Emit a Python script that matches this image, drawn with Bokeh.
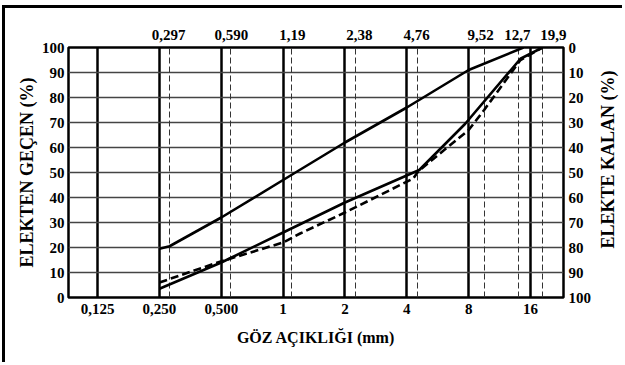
import math
from bokeh.plotting import figure
from bokeh.models import LinearAxis, LogAxis, Range1d, FixedTicker, Grid, Label
from bokeh.embed import file_html
from bokeh.resources import INLINE

# ---- data ----
sieve_ticks_mm = [0.125, 0.25, 0.5, 1.0, 2.0, 4.0, 8.0, 16.0]
sieve_tick_labels = ["0,125", "0,250", "0,500", "1", "2", "4", "8", "16"]

astm_line_mm = [0.28, 0.554, 1.098, 2.25, 4.51, 9.55, 14.0, 18.3]
astm_label_mm = [0.277, 0.56, 1.11, 2.35, 4.46, 9.14, 13.83, 20.7]
astm_labels = ["0,297", "0,590", "1,19", "2,38", "4,76", "9,52", "12,7", "19,9"]

gecen_ticks = [0, 10, 20, 30, 40, 50, 60, 70, 80, 90, 100]
kalan_ticks = [0, 10, 20, 30, 40, 50, 60, 70, 80, 90, 100]

upper_x = [0.25, 0.28, 0.5, 1.0, 2.0, 4.0, 8.0, 14.8]
upper_y = [19.5, 20.5, 32, 47, 62, 76, 91, 100]

lower_x = [0.25, 0.5, 1.0, 2.0, 4.6, 7.7, 14.3, 18.3]
lower_y = [3.5, 14, 26, 38, 51, 69.5, 95.5, 100]

mix_x = [0.25, 0.48, 1.0, 1.21, 2.0, 4.3, 4.55, 8.0, 9.52, 14.3, 18.3]
mix_y = [6, 14, 22, 25.6, 34, 47.6, 50.5, 67, 75, 95, 100]

FONT = "Liberation Serif"

p = figure(width=620, height=357, x_axis_type="log",
           x_range=Range1d(0.0902, 23.17), y_range=Range1d(0, 100),
           output_backend="svg", toolbar_location=None,
           min_border_left=63, min_border_right=62,
           min_border_top=39, min_border_bottom=68)
p.styles = {"border-left": "3px solid black", "border-top": "3px solid black",
            "margin-left": "2px", "margin-top": "5px"}
p.background_fill_color = "white"
p.border_fill_color = "white"
p.outline_line_color = "black"
p.outline_line_width = 2.5
p.outline_line_alpha = 1.0

def style_axis(ax, label_size="15px"):
    ax.axis_line_color = None
    ax.major_tick_line_color = None
    ax.minor_tick_line_color = None
    ax.major_tick_out = 0
    ax.major_tick_in = 0
    ax.minor_tick_out = 0
    ax.minor_tick_in = 0
    ax.major_label_text_font = FONT
    ax.major_label_text_font_style = "bold"
    ax.major_label_text_font_size = label_size
    ax.major_label_text_color = "black"
    ax.axis_label_text_font = FONT
    ax.axis_label_text_font_style = "bold"
    ax.axis_label_text_color = "black"

# bottom axis
xb = p.xaxis[0]
xb.ticker = FixedTicker(ticks=sieve_ticks_mm)
xb.major_label_overrides = dict(zip(sieve_ticks_mm, sieve_tick_labels))
xb.axis_label = "GÖZ AÇIKLIĞI (mm)"
style_axis(xb)
xb.axis_label_text_font_size = "16px"
xb.major_label_standoff = 6
xb.axis_label_standoff = 12

# left axis
yl = p.yaxis[0]
yl.ticker = FixedTicker(ticks=gecen_ticks)
yl.axis_label = "ELEKTEN GEÇEN (%)"
style_axis(yl)
yl.axis_label_text_font_size = "18px"
yl.major_label_standoff = 4
yl.axis_label_standoff = 2

# top axis (sieve openings)
xt = LogAxis(ticker=FixedTicker(ticks=astm_label_mm),
             major_label_overrides=dict(zip(astm_label_mm, astm_labels)))
style_axis(xt)
xt.major_label_standoff = 8
p.add_layout(xt, "above")

# right axis (retained)
p.extra_y_ranges = {"kalan": Range1d(100, 0)}
yr = LinearAxis(y_range_name="kalan", ticker=FixedTicker(ticks=kalan_ticks))
style_axis(yr)
yr.major_label_standoff = 5
p.add_layout(yr, "right")

# right-side title, reading bottom-to-top like the left one
right_title = Label(x=13, y=138, x_units="screen", y_units="screen",
                    text="ELEKTE KALAN (%)", angle=math.pi / 2,
                    text_align="center", text_baseline="middle",
                    text_font=FONT, text_font_style="bold",
                    text_font_size="18px", text_color="black")
p.add_layout(right_title, "right")

# grids
p.xgrid.grid_line_color = "black"
p.xgrid.grid_line_width = 2.5
p.xgrid.grid_line_alpha = 1.0
p.ygrid.grid_line_color = "#444444"
p.ygrid.grid_line_width = 1.5
p.ygrid.grid_line_alpha = 1.0

dgrid = Grid(dimension=0, ticker=FixedTicker(ticks=astm_line_mm),
             grid_line_color="#333333", grid_line_width=1,
             grid_line_dash="6 3")
p.add_layout(dgrid)

# curves
p.line(upper_x, upper_y, line_color="black", line_width=2.6)
p.line(lower_x, lower_y, line_color="black", line_width=2.6)
p.line(mix_x, mix_y, line_color="black", line_width=2.6, line_dash="8 4")

open("out.html", "w").write(file_html(p, INLINE))
